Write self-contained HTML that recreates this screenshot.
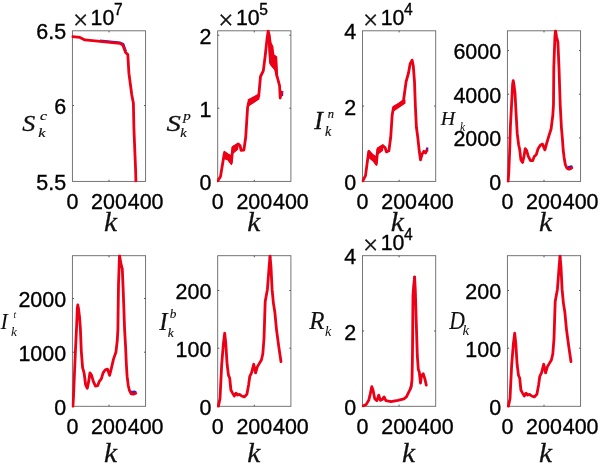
<!DOCTYPE html>
<html><head><meta charset="utf-8"><title>figure</title>
<style>
html,body{margin:0;padding:0;background:#fff;}
body{width:602px;height:467px;overflow:hidden;}
svg{display:block;}
.s{font-family:"Liberation Sans",sans-serif;fill:#000;stroke:#000;stroke-width:0.35px;}
.x{font-family:"Liberation Serif",serif;fill:#111;stroke:#111;stroke-width:0.3px;}
.t{font-family:"Liberation Serif",serif;font-style:italic;fill:#111;stroke:#111;stroke-width:0.25px;}
</style></head><body>
<svg width="602" height="467" viewBox="0 0 602 467">
<rect width="602" height="467" fill="#fff"/>
<clipPath id="c0"><rect x="71.6" y="29.8" width="76.0" height="152.8"/></clipPath>
<rect x="72.4" y="30.8" width="73.2" height="150.6" fill="none" stroke="#666" stroke-width="0.9"/>
<path d="M109.0 181.4v-1.6 M109.0 30.8v1.6 M72.4 105.6h1.6 M145.6 105.6h-1.6" stroke="#555" stroke-width="1" fill="none"/>
<polyline points="100.0,40.7 119.8,42.6 123.2,44.2 125.8,51.5" fill="none" stroke="#2a22d8" stroke-width="2.4" stroke-linecap="butt"/>
<polyline points="72.5,36.6 79.9,37.4 84.9,39.9 100.0,41.4 119.8,43.3 122.8,44.9 125.6,52.4 127.8,54.6 128.9,73.2 131.8,95.0 133.4,103.3 133.9,128.2 135.6,169.8 135.9,181.0" fill="none" stroke="#ec0016" stroke-width="2.8" stroke-linejoin="round" stroke-linecap="round" clip-path="url(#c0)"/>
<text class="s" transform="translate(72.4,208.6) scale(0.975,1)" text-anchor="middle" font-size="22.0">0</text>
<text class="s" transform="translate(109.0,208.6) scale(0.975,1)" text-anchor="middle" font-size="22.0">200</text>
<text class="s" transform="translate(145.6,208.6) scale(0.975,1)" text-anchor="middle" font-size="22.0">400</text>
<text class="t" transform="translate(110.6,230.6) scale(1.080,1)" text-anchor="middle" font-size="27.2">k</text>
<text class="s" transform="translate(66.1,189.9) scale(0.975,1)" text-anchor="end" font-size="22.0">5.5</text>
<text class="s" transform="translate(66.1,114.1) scale(0.975,1)" text-anchor="end" font-size="22.0">6</text>
<text class="s" transform="translate(66.1,39.3) scale(0.975,1)" text-anchor="end" font-size="22.0">6.5</text>
<text class="x" x="73.0" y="28.8" font-size="27">×</text>
<text class="s" transform="translate(90.6,25.1) scale(0.970,1)" text-anchor="start" font-size="22.0">10</text>
<text class="s" transform="translate(114.0,14.9) scale(0.975,1)" text-anchor="start" font-size="16.0">7</text>
<clipPath id="c1"><rect x="216.9" y="29.8" width="76.0" height="152.8"/></clipPath>
<rect x="217.7" y="30.8" width="73.2" height="150.6" fill="none" stroke="#666" stroke-width="0.9"/>
<path d="M254.3 181.4v-1.6 M254.3 30.8v1.6 M217.7 108.2h1.6 M290.9 108.2h-1.6 M217.7 35.2h1.6 M290.9 35.2h-1.6" stroke="#555" stroke-width="1" fill="none"/>
<polyline points="281.9,96.0 282.2,91.0" fill="none" stroke="#2a22d8" stroke-width="2.4" stroke-linecap="butt"/>
<polygon points="224.3,151.6 228.0,154.1 231.7,156.2 231.4,164.2 228.0,159.7 224.3,158.6" fill="#ec0016" stroke="#ec0016" stroke-width="1.6" stroke-linejoin="round"/>
<polygon points="232.7,146.8 238.3,143.8 237.3,149.4 232.7,153.0" fill="#ec0016" stroke="#ec0016" stroke-width="1.6" stroke-linejoin="round"/>
<polygon points="248.4,100.0 258.7,94.4 258.7,98.9 249.3,105.2" fill="#ec0016" stroke="#ec0016" stroke-width="1.6" stroke-linejoin="round"/>
<polygon points="268.0,31.5 269.5,33.6 270.8,42.9 272.6,46.7 273.6,55.0 276.4,56.9 277.3,72.8 276.7,77.2 275.4,70.0 271.3,65.3 270.2,63.4 268.9,45.7" fill="#ec0016" stroke="#ec0016" stroke-width="1.6" stroke-linejoin="round"/>
<polyline points="217.7,181.0 220.5,176.5 224.3,153.4 228.0,156.6 231.4,162.5 232.7,148.0 238.3,144.0 240.1,145.7 241.1,150.4 243.9,150.0 245.7,137.3 247.6,107.5 248.6,102.5 253.5,99.5 258.7,96.3 260.5,76.5 263.3,70.9 265.2,56.0 267.0,39.2 268.2,31.0 269.5,40.0 270.4,62.0 272.0,64.5 275.4,68.5 277.0,76.0 279.6,85.8 280.2,98.0 281.5,92.0" fill="none" stroke="#ec0016" stroke-width="2.8" stroke-linejoin="round" stroke-linecap="round" clip-path="url(#c1)"/>
<text class="s" transform="translate(217.7,208.6) scale(0.975,1)" text-anchor="middle" font-size="22.0">0</text>
<text class="s" transform="translate(254.3,208.6) scale(0.975,1)" text-anchor="middle" font-size="22.0">200</text>
<text class="s" transform="translate(290.9,208.6) scale(0.975,1)" text-anchor="middle" font-size="22.0">400</text>
<text class="t" transform="translate(253.8,230.6) scale(1.080,1)" text-anchor="middle" font-size="27.2">k</text>
<text class="s" transform="translate(211.4,189.9) scale(0.975,1)" text-anchor="end" font-size="22.0">0</text>
<text class="s" transform="translate(211.4,116.7) scale(0.975,1)" text-anchor="end" font-size="22.0">1</text>
<text class="s" transform="translate(211.4,43.7) scale(0.975,1)" text-anchor="end" font-size="22.0">2</text>
<text class="x" x="218.3" y="28.8" font-size="27">×</text>
<text class="s" transform="translate(235.9,25.1) scale(0.970,1)" text-anchor="start" font-size="22.0">10</text>
<text class="s" transform="translate(259.3,14.9) scale(0.975,1)" text-anchor="start" font-size="16.0">5</text>
<clipPath id="c2"><rect x="361.7" y="29.8" width="76.0" height="152.8"/></clipPath>
<rect x="362.5" y="30.8" width="73.2" height="150.6" fill="none" stroke="#666" stroke-width="0.9"/>
<path d="M399.1 181.4v-1.6 M399.1 30.8v1.6 M362.5 106.1h1.6 M435.7 106.1h-1.6" stroke="#555" stroke-width="1" fill="none"/>
<polyline points="427.0,151.5 427.2,147.5" fill="none" stroke="#2a22d8" stroke-width="2.4" stroke-linecap="butt"/>
<polygon points="368.7,150.6 373.0,155.0 376.7,157.1 376.4,165.1 373.0,160.6 369.3,157.6" fill="#ec0016" stroke="#ec0016" stroke-width="1.6" stroke-linejoin="round"/>
<polygon points="377.7,148.3 382.9,145.0 382.3,150.4 377.7,153.9" fill="#ec0016" stroke="#ec0016" stroke-width="1.6" stroke-linejoin="round"/>
<polygon points="393.5,106.7 404.7,100.2 404.7,103.2 394.4,110.1" fill="#ec0016" stroke="#ec0016" stroke-width="1.6" stroke-linejoin="round"/>
<polyline points="362.7,181.0 365.5,175.6 368.7,151.6 373.0,157.5 376.4,163.5 377.7,149.5 382.9,146.0 385.1,147.6 386.4,151.9 388.9,150.7 390.7,137.3 392.2,114.9 393.5,107.5 398.0,105.0 403.5,100.5 406.1,81.6 408.5,73.0 410.2,63.6 412.1,60.1 413.3,66.1 414.5,81.6 415.3,104.5 416.4,127.3 417.6,135.9 419.3,151.3 420.5,159.9 422.2,153.9 423.9,151.3 425.6,153.0 426.7,150.4" fill="none" stroke="#ec0016" stroke-width="2.8" stroke-linejoin="round" stroke-linecap="round" clip-path="url(#c2)"/>
<text class="s" transform="translate(362.5,208.6) scale(0.975,1)" text-anchor="middle" font-size="22.0">0</text>
<text class="s" transform="translate(399.1,208.6) scale(0.975,1)" text-anchor="middle" font-size="22.0">200</text>
<text class="s" transform="translate(435.7,208.6) scale(0.975,1)" text-anchor="middle" font-size="22.0">400</text>
<text class="t" transform="translate(397.2,230.6) scale(1.080,1)" text-anchor="middle" font-size="27.2">k</text>
<text class="s" transform="translate(356.2,189.9) scale(0.975,1)" text-anchor="end" font-size="22.0">0</text>
<text class="s" transform="translate(356.2,114.6) scale(0.975,1)" text-anchor="end" font-size="22.0">2</text>
<text class="s" transform="translate(356.2,39.3) scale(0.975,1)" text-anchor="end" font-size="22.0">4</text>
<text class="x" x="363.1" y="28.8" font-size="27">×</text>
<text class="s" transform="translate(380.7,25.1) scale(0.970,1)" text-anchor="start" font-size="22.0">10</text>
<text class="s" transform="translate(404.1,14.9) scale(0.975,1)" text-anchor="start" font-size="16.0">4</text>
<clipPath id="c3"><rect x="506.6" y="29.8" width="76.0" height="152.8"/></clipPath>
<rect x="507.4" y="30.8" width="73.2" height="150.6" fill="none" stroke="#666" stroke-width="0.9"/>
<path d="M544.0 181.4v-1.6 M544.0 30.8v1.6 M507.4 137.9h1.6 M580.6 137.9h-1.6 M507.4 94.2h1.6 M580.6 94.2h-1.6 M507.4 50.6h1.6 M580.6 50.6h-1.6" stroke="#555" stroke-width="1" fill="none"/>
<polyline points="567.6,167.2 569.5,167.0 571.0,166.6 572.3,167.0" fill="none" stroke="#2a22d8" stroke-width="2.4" stroke-linecap="butt"/>
<polyline points="508.1,181.3 508.8,172.5 509.7,150.0 510.4,126.4 511.6,103.9 512.6,84.5 513.2,80.6 513.9,84.5 515.0,93.0 516.0,112.0 517.2,133.2 518.6,144.5 519.7,149.6 520.9,159.9 522.6,162.4 524.0,156.4 525.2,148.7 526.6,150.4 528.3,156.4 530.5,160.7 532.6,160.7 534.3,156.4 536.3,154.7 538.1,148.7 540.3,145.3 542.5,144.1 544.9,149.9 546.6,143.6 548.9,135.9 551.1,129.0 552.8,115.3 553.5,104.6 553.8,67.9 554.9,37.0 555.5,30.7 556.6,37.0 557.9,42.1 559.0,67.9 560.2,104.6 561.4,127.3 562.5,140.0 563.2,150.0 564.2,158.0 565.3,164.5 566.8,168.0 568.6,169.2 570.3,168.8 571.8,167.8" fill="none" stroke="#ec0016" stroke-width="2.8" stroke-linejoin="round" stroke-linecap="round" clip-path="url(#c3)"/>
<text class="s" transform="translate(507.4,208.6) scale(0.975,1)" text-anchor="middle" font-size="22.0">0</text>
<text class="s" transform="translate(544.0,208.6) scale(0.975,1)" text-anchor="middle" font-size="22.0">200</text>
<text class="s" transform="translate(580.6,208.6) scale(0.975,1)" text-anchor="middle" font-size="22.0">400</text>
<text class="t" transform="translate(545.6,230.6) scale(1.080,1)" text-anchor="middle" font-size="27.2">k</text>
<text class="s" transform="translate(501.1,189.9) scale(0.975,1)" text-anchor="end" font-size="22.0">0</text>
<text class="s" transform="translate(501.1,146.4) scale(0.975,1)" text-anchor="end" font-size="22.0">2000</text>
<text class="s" transform="translate(501.1,102.7) scale(0.975,1)" text-anchor="end" font-size="22.0">4000</text>
<text class="s" transform="translate(501.1,59.1) scale(0.975,1)" text-anchor="end" font-size="22.0">6000</text>
<clipPath id="c4"><rect x="71.6" y="254.7" width="76.0" height="152.8"/></clipPath>
<rect x="72.4" y="255.7" width="73.2" height="150.6" fill="none" stroke="#666" stroke-width="0.9"/>
<path d="M109.0 406.3v-1.6 M109.0 255.7v1.6 M72.4 352.2h1.6 M145.6 352.2h-1.6 M72.4 298.5h1.6 M145.6 298.5h-1.6" stroke="#555" stroke-width="1" fill="none"/>
<polyline points="131.0,391.9 132.8,391.9 134.5,391.7 136.1,392.4" fill="none" stroke="#2a22d8" stroke-width="2.4" stroke-linecap="butt"/>
<polyline points="72.9,406.6 73.5,397.0 74.4,375.0 75.4,351.4 76.5,328.9 77.3,308.5 77.8,305.0 78.5,308.5 79.6,317.6 80.4,328.9 81.3,351.4 82.6,367.7 84.2,373.5 85.6,384.9 87.3,388.3 88.7,381.4 89.9,372.9 91.6,375.4 93.3,381.4 95.5,386.2 97.6,385.7 99.3,381.4 101.3,378.9 103.1,372.9 105.3,369.8 107.5,369.1 109.6,375.4 111.3,368.6 113.5,359.1 115.9,352.3 117.3,340.3 117.9,329.6 118.5,284.3 119.5,255.1 120.9,263.7 122.3,268.9 123.3,292.9 124.6,329.6 125.5,345.0 126.4,365.0 127.1,376.2 128.2,385.2 129.4,390.4 131.2,393.8 133.5,394.2 135.7,393.3" fill="none" stroke="#ec0016" stroke-width="2.8" stroke-linejoin="round" stroke-linecap="round" clip-path="url(#c4)"/>
<text class="s" transform="translate(72.4,433.5) scale(0.975,1)" text-anchor="middle" font-size="22.0">0</text>
<text class="s" transform="translate(109.0,433.5) scale(0.975,1)" text-anchor="middle" font-size="22.0">200</text>
<text class="s" transform="translate(145.6,433.5) scale(0.975,1)" text-anchor="middle" font-size="22.0">400</text>
<text class="t" transform="translate(110.6,462.0) scale(1.080,1)" text-anchor="middle" font-size="27.2">k</text>
<text class="s" transform="translate(66.1,414.8) scale(0.975,1)" text-anchor="end" font-size="22.0">0</text>
<text class="s" transform="translate(66.1,360.7) scale(0.975,1)" text-anchor="end" font-size="22.0">1000</text>
<text class="s" transform="translate(66.1,307.0) scale(0.975,1)" text-anchor="end" font-size="22.0">2000</text>
<clipPath id="c5"><rect x="216.9" y="254.7" width="76.0" height="152.8"/></clipPath>
<rect x="217.7" y="255.7" width="73.2" height="150.6" fill="none" stroke="#666" stroke-width="0.9"/>
<path d="M254.3 406.3v-1.6 M254.3 255.7v1.6 M217.7 348.2h1.6 M290.9 348.2h-1.6 M217.7 290.5h1.6 M290.9 290.5h-1.6" stroke="#555" stroke-width="1" fill="none"/>
<polyline points="270.0,256.3 270.0,258.0" fill="none" stroke="#2a22d8" stroke-width="2.4" stroke-linecap="butt"/>
<polyline points="218.3,406.6 220.0,398.6 221.7,364.3 223.4,343.7 224.7,333.1 225.8,343.7 227.1,364.3 228.5,375.4 229.7,378.0 230.9,390.0 232.3,392.6 234.3,396.0 236.1,393.1 237.4,395.1 239.5,394.3 241.7,396.0 244.3,396.9 246.9,394.3 248.6,384.9 249.8,376.3 251.5,372.9 253.7,364.3 255.6,372.9 257.3,366.9 259.4,363.4 261.4,360.0 262.8,354.0 264.0,338.6 264.3,329.6 265.2,301.4 267.4,289.4 269.1,267.1 270.0,256.0 271.0,267.1 272.1,289.4 273.4,303.1 274.8,311.7 276.5,329.6 278.6,345.4 281.0,361.7" fill="none" stroke="#ec0016" stroke-width="2.8" stroke-linejoin="round" stroke-linecap="round" clip-path="url(#c5)"/>
<text class="s" transform="translate(217.7,433.5) scale(0.975,1)" text-anchor="middle" font-size="22.0">0</text>
<text class="s" transform="translate(254.3,433.5) scale(0.975,1)" text-anchor="middle" font-size="22.0">200</text>
<text class="s" transform="translate(290.9,433.5) scale(0.975,1)" text-anchor="middle" font-size="22.0">400</text>
<text class="t" transform="translate(253.8,462.0) scale(1.080,1)" text-anchor="middle" font-size="27.2">k</text>
<text class="s" transform="translate(211.4,414.8) scale(0.975,1)" text-anchor="end" font-size="22.0">0</text>
<text class="s" transform="translate(211.4,356.7) scale(0.975,1)" text-anchor="end" font-size="22.0">100</text>
<text class="s" transform="translate(211.4,299.0) scale(0.975,1)" text-anchor="end" font-size="22.0">200</text>
<clipPath id="c6"><rect x="361.7" y="254.7" width="76.0" height="152.8"/></clipPath>
<rect x="362.5" y="255.7" width="73.2" height="150.6" fill="none" stroke="#666" stroke-width="0.9"/>
<path d="M399.1 406.3v-1.6 M399.1 255.7v1.6 M362.5 331.0h1.6 M435.7 331.0h-1.6" stroke="#555" stroke-width="1" fill="none"/>
<polyline points="414.7,276.0 414.7,279.0" fill="none" stroke="#2a22d8" stroke-width="2.4" stroke-linecap="butt"/>
<polyline points="410.2,389.5 411.6,384.5" fill="none" stroke="#2a22d8" stroke-width="2.4" stroke-linecap="butt"/>
<polyline points="362.9,406.0 366.1,404.6 368.7,400.3 370.4,393.4 371.8,386.6 373.0,390.0 374.7,398.6 376.9,400.6 378.7,395.1 380.4,400.3 382.4,399.4 384.1,396.9 385.9,400.6 391.0,401.7 397.9,400.3 403.9,398.9 406.4,396.9 409.0,391.7 411.1,387.0 412.0,380.0 412.4,360.0 412.7,330.0 413.0,295.0 413.6,287.0 414.6,276.8 415.3,290.0 415.9,310.0 416.5,330.0 417.3,355.7 418.3,369.4 419.3,372.0 420.5,383.1 421.5,375.4 423.2,373.7 424.9,378.9 426.3,385.2" fill="none" stroke="#ec0016" stroke-width="2.8" stroke-linejoin="round" stroke-linecap="round" clip-path="url(#c6)"/>
<text class="s" transform="translate(362.5,433.5) scale(0.975,1)" text-anchor="middle" font-size="22.0">0</text>
<text class="s" transform="translate(399.1,433.5) scale(0.975,1)" text-anchor="middle" font-size="22.0">200</text>
<text class="s" transform="translate(435.7,433.5) scale(0.975,1)" text-anchor="middle" font-size="22.0">400</text>
<text class="t" transform="translate(408.4,462.0) scale(1.080,1)" text-anchor="middle" font-size="27.2">k</text>
<text class="s" transform="translate(356.2,414.8) scale(0.975,1)" text-anchor="end" font-size="22.0">0</text>
<text class="s" transform="translate(356.2,339.5) scale(0.975,1)" text-anchor="end" font-size="22.0">2</text>
<text class="s" transform="translate(356.2,264.2) scale(0.975,1)" text-anchor="end" font-size="22.0">4</text>
<text class="x" x="363.1" y="253.7" font-size="27">×</text>
<text class="s" transform="translate(380.7,250.0) scale(0.970,1)" text-anchor="start" font-size="22.0">10</text>
<text class="s" transform="translate(404.1,239.8) scale(0.975,1)" text-anchor="start" font-size="16.0">4</text>
<clipPath id="c7"><rect x="506.6" y="254.7" width="76.0" height="152.8"/></clipPath>
<rect x="507.4" y="255.7" width="73.2" height="150.6" fill="none" stroke="#666" stroke-width="0.9"/>
<path d="M544.0 406.3v-1.6 M544.0 255.7v1.6 M507.4 348.2h1.6 M580.6 348.2h-1.6 M507.4 290.5h1.6 M580.6 290.5h-1.6" stroke="#555" stroke-width="1" fill="none"/>
<polyline points="560.0,256.3 560.0,258.0" fill="none" stroke="#2a22d8" stroke-width="2.4" stroke-linecap="butt"/>
<polyline points="508.3,406.6 510.0,398.6 511.7,364.3 513.4,343.7 514.7,333.1 515.8,343.7 517.1,364.3 518.5,375.4 519.7,378.0 520.9,390.0 522.3,392.6 524.3,396.0 526.1,393.1 527.4,395.1 529.5,394.3 531.7,396.0 534.3,396.9 536.9,394.3 538.6,384.9 539.8,376.3 541.5,372.9 543.7,364.3 545.6,372.9 547.3,366.9 549.4,363.4 551.4,360.0 552.8,354.0 554.0,338.6 554.3,329.6 555.2,301.4 557.4,289.4 559.1,267.1 560.0,256.0 561.0,267.1 562.1,289.4 563.4,303.1 564.8,311.7 566.5,329.6 568.6,345.4 571.0,361.7" fill="none" stroke="#ec0016" stroke-width="2.8" stroke-linejoin="round" stroke-linecap="round" clip-path="url(#c7)"/>
<text class="s" transform="translate(507.4,433.5) scale(0.975,1)" text-anchor="middle" font-size="22.0">0</text>
<text class="s" transform="translate(544.0,433.5) scale(0.975,1)" text-anchor="middle" font-size="22.0">200</text>
<text class="s" transform="translate(580.6,433.5) scale(0.975,1)" text-anchor="middle" font-size="22.0">400</text>
<text class="t" transform="translate(545.6,462.0) scale(1.080,1)" text-anchor="middle" font-size="27.2">k</text>
<text class="s" transform="translate(501.1,414.8) scale(0.975,1)" text-anchor="end" font-size="22.0">0</text>
<text class="s" transform="translate(501.1,356.7) scale(0.975,1)" text-anchor="end" font-size="22.0">100</text>
<text class="s" transform="translate(501.1,299.0) scale(0.975,1)" text-anchor="end" font-size="22.0">200</text>
<text class="t" transform="translate(22.3,130.7) scale(1.130,1)" text-anchor="start" font-size="23.0" style="stroke-width:0.30px">S</text>
<text class="t" transform="translate(40.1,120.1) scale(1.250,1)" text-anchor="start" font-size="12.5" style="stroke-width:0.20px">c</text>
<text class="t" transform="translate(38.2,136.7) scale(1.200,1)" text-anchor="start" font-size="13.5" style="stroke-width:0.20px">k</text>
<text class="t" transform="translate(166.4,130.6) scale(1.220,1)" text-anchor="start" font-size="23.5" style="stroke-width:0.30px">S</text>
<text class="t" transform="translate(183.2,120.0) scale(1.200,1)" text-anchor="start" font-size="12.6" style="stroke-width:0.20px">p</text>
<text class="t" transform="translate(180.3,136.8) scale(1.100,1)" text-anchor="start" font-size="13.0" style="stroke-width:0.20px">k</text>
<text class="t" transform="translate(314.2,129.0) scale(1.000,1)" text-anchor="start" font-size="25.8" style="stroke-width:0.30px">I</text>
<text class="t" transform="translate(327.8,117.7) scale(1.000,1)" text-anchor="start" font-size="12.5" style="stroke-width:0.20px">n</text>
<text class="t" transform="translate(325.1,135.7) scale(1.000,1)" text-anchor="start" font-size="14.0" style="stroke-width:0.20px">k</text>
<text class="t" transform="translate(440.8,125.2) scale(1.070,1)" text-anchor="start" font-size="18.6" style="stroke-width:0.15px">H</text>
<text class="t" transform="translate(460.1,130.5) scale(1.000,1)" text-anchor="start" font-size="11.5" style="stroke-width:0.00px">k</text>
<text class="t" transform="translate(0.5,329.4) scale(0.920,1)" text-anchor="start" font-size="24.0" style="stroke-width:0.00px">I</text>
<text class="t" transform="translate(13.5,318.3) scale(0.900,1)" text-anchor="start" font-size="10.5" style="stroke-width:0.00px">t</text>
<text class="t" transform="translate(11.1,336.4) scale(1.000,1)" text-anchor="start" font-size="13.3" style="stroke-width:0.00px">k</text>
<text class="t" transform="translate(159.2,329.9) scale(1.000,1)" text-anchor="start" font-size="25.0" style="stroke-width:0.20px">I</text>
<text class="t" transform="translate(169.7,318.3) scale(1.000,1)" text-anchor="start" font-size="13.3" style="stroke-width:0.15px">b</text>
<text class="t" transform="translate(167.8,336.6) scale(1.000,1)" text-anchor="start" font-size="13.3" style="stroke-width:0.15px">k</text>
<text class="t" transform="translate(309.2,328.9) scale(0.980,1)" text-anchor="start" font-size="25.5" style="stroke-width:0.10px">R</text>
<text class="t" transform="translate(324.9,336.1) scale(0.950,1)" text-anchor="start" font-size="15.0" style="stroke-width:0.00px">k</text>
<text class="t" transform="translate(449.2,328.9) scale(0.850,1)" text-anchor="start" font-size="25.5" style="stroke-width:0.10px">D</text>
<text class="t" transform="translate(462.6,335.3) scale(1.000,1)" text-anchor="start" font-size="15.0" style="stroke-width:0.00px">k</text>
</svg>
</body></html>
